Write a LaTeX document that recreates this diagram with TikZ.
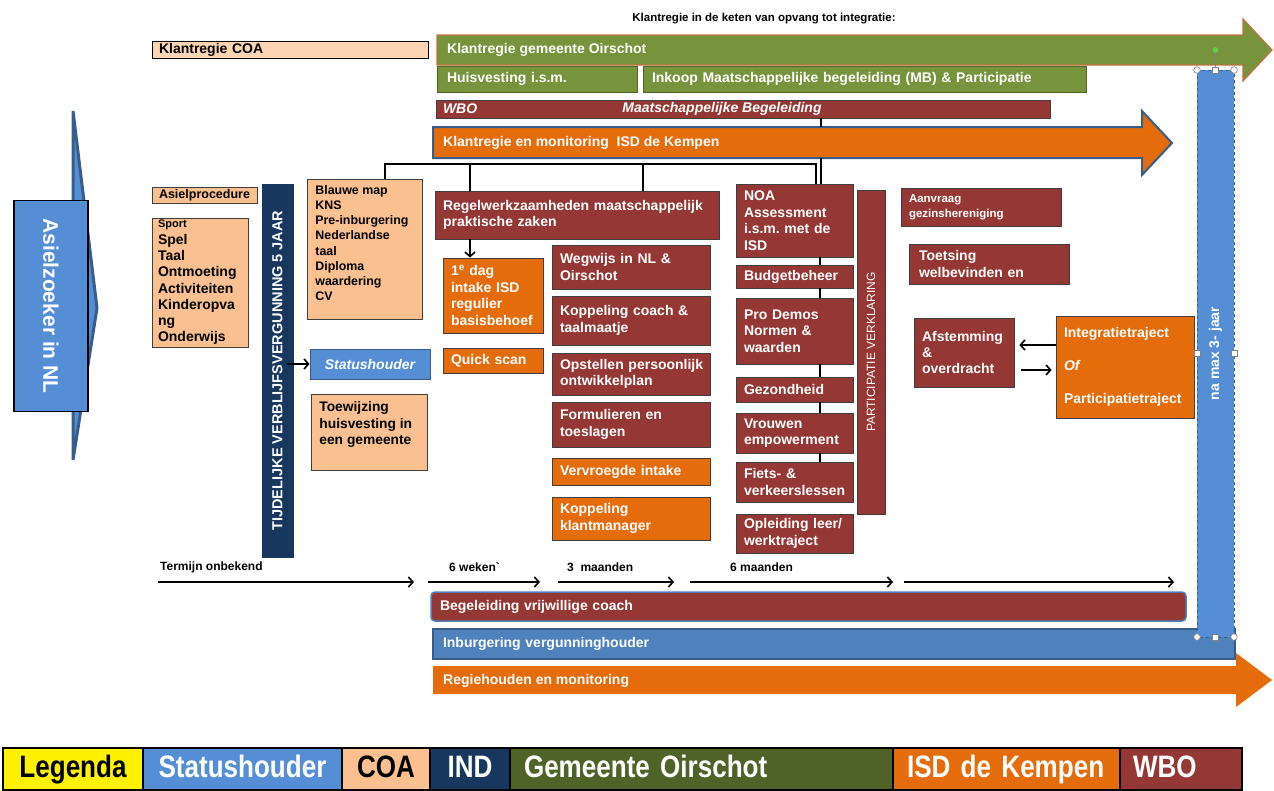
\documentclass[tikz,border=0pt]{standalone}
\usepackage{fontspec}
\setmainfont{Liberation Sans}
\newfontfamily\narrowfont[FakeStretch=0.84]{Liberation Sans}
\usetikzlibrary{arrows.meta}
\frenchspacing
\definecolor{wbo}{HTML}{953735}
\definecolor{isd}{HTML}{E46C0A}
\definecolor{gem}{HTML}{77933C}
\definecolor{gemdark}{HTML}{4F6228}
\definecolor{coa}{HTML}{FAC090}
\definecolor{coalight}{HTML}{FCD5B5}
\definecolor{stat}{HTML}{558ED5}
\definecolor{inb}{HTML}{4F81BD}
\definecolor{ind}{HTML}{17375E}
\definecolor{bord}{HTML}{3F3F3F}
\definecolor{blueline}{HTML}{385D8A}
\definecolor{gemline}{HTML}{C0723C}
\definecolor{rotdot}{HTML}{5FD33A}
\newcommand\myfs[2]{\fontsize{#1}{#2}\selectfont}
\newcommand\mybx[8]{%
  \pgfmathsetmacro\bxw{#4-#2}%
  \pgfmathsetmacro\bxh{#5-#3}%
  \pgfmathsetmacro\bxt{#4-#2-2*#6}%
  \pgfmathsetmacro\bxcx{(#2+#4)/2}%
  \pgfmathsetmacro\bxcy{(#3+#5)/2}%
  \node[bxs,#7,minimum width=\bxw pt,minimum height=\bxh pt,text width=\bxt pt] (#1) at (\bxcx,\bxcy) {#8};%
}
\tikzset{
  bxs/.style={draw=bord, line width=0.8pt, inner sep=0pt, align=left, text=white, font=\bfseries\frenchspacing\myfs{14}{16.5}},
  conn/.style={line width=1.6pt, draw=black},
  arr/.style={line width=1.6pt, draw=black, -{Straight Barb[length=4.5pt,width=10pt,line width=1.6pt]}},
  lbl/.style={inner sep=0pt, anchor=west, text=white, font=\bfseries\myfs{14}{16}},
  tl/.style={inner sep=0pt, anchor=west, text=black, font=\bfseries\myfs{12}{14}},
  leg/.style={draw=black, line width=1.5pt, align=center, text height=22pt, text depth=6pt, font=\narrowfont\bfseries\myfs{31}{33}},
  handle/.style={draw=gray, fill=white, line width=0.6pt},
}
\begin{document}
\begin{tikzpicture}[x=1pt,y=-1pt]
\useasboundingbox[fill=white] (0,0) rectangle (1274,790);

% title
\node[inner sep=0pt, font=\bfseries\myfs{11.5}{13}] (title) at (764,19) {Klantregie in de keten van opvang tot integratie:};

% left chevron and box
\filldraw[fill=stat, draw=blueline, line width=3pt, line join=bevel] (73,111) -- (97,308) -- (73,460) -- cycle;
\node[fill=stat, draw=black, line width=1.8pt, inner sep=0pt, minimum width=211pt, minimum height=74pt, rotate=-90, text=white, font=\bfseries\myfs{21}{24}] (asiel) at (51,306) {Asielzoeker in NL};

% top bars
\mybx{coa}{152}{41}{428}{58}{7}{fill=coalight, draw=black, text=black}{Klantregie COA}
\filldraw[fill=gem, draw=gemline, line width=1.2pt] (437,35) -- (1243,35) -- (1243,19) -- (1272,50) -- (1243,81) -- (1243,65) -- (437,65) -- cycle;
\node[lbl] (gemlbl) at (447,50) {Klantregie gemeente Oirschot};
\mybx{huis}{437}{66}{637}{92}{10}{fill=gem, draw=gemdark}{Huisvesting i.s.m.}
\mybx{inkoop}{643}{66}{1086}{92}{9}{fill=gem, draw=gemdark}{Inkoop Maatschappelijke begeleiding (MB) \& Participatie}
\mybx{wbo}{436}{100}{1050}{118}{7}{fill=wbo, draw=bord, font=\bfseries\itshape\myfs{14}{16}}{WBO}
\node[inner sep=0pt, text=white, font=\bfseries\itshape\myfs{14}{16}] (wbomb) at (722,109) {Maatschappelijke Begeleiding};
\filldraw[fill=isd, draw=blueline, line width=2pt] (433,127) -- (1142,127) -- (1142,111) -- (1172,143) -- (1142,175) -- (1142,158) -- (433,158) -- cycle;
\node[lbl] (isdlbl) at (443,143) {Klantregie en monitoring\ \ ISD de Kempen};

% left column
\mybx{aproc}{152}{187}{257}{203}{7}{fill=coa, text=black, font=\bfseries\myfs{12.5}{14}}{Asielprocedure}
\mybx{sport}{152}{218}{248}{347}{6}{fill=coa, text=black, font=\bfseries\myfs{14}{16.3}}{{\myfs{11}{12}Sport}\\Spel\\Taal\\Ontmoeting\\Activiteiten\\Kinderopva\\ng\\Onderwijs}
\node[fill=ind, draw=ind, inner sep=0pt, minimum width=373pt, minimum height=31pt, rotate=90, text=white, font=\bfseries\myfs{14.5}{16}] (ind) at (277.5,370.5) {TIJDELIJKE VERBLIJFSVERGUNNING 5 JAAR};
\node[draw=bord, line width=0.8pt, fill=coa, anchor=north west, inner xsep=8pt, inner ysep=6pt, font=\bfseries\myfs{12.4}{15.2}] (blauwe) at (307,179) {\parbox[c][128pt][t]{99pt}{\raggedright Blauwe map\\KNS\\Pre-inburgering\\Nederlandse\\taal\\Diploma\\waardering\\CV}};
\mybx{status}{310}{349}{430}{379}{4}{fill=stat, draw=blueline, align=center, font=\bfseries\itshape\myfs{14}{16}}{Statushouder}
\node[draw=bord, line width=0.8pt, fill=coa, anchor=north west, inner xsep=8pt, inner ysep=7pt, font=\bfseries\myfs{13.8}{16.7}] (toew) at (311,394) {\parbox[c][62pt][t]{100pt}{\raggedright Toewijzing\\huisvesting in\\een gemeente}};
\coordinate (ic) at (287,364);
\draw[arr] (ic) -- (ic -| status.west);

% middle
\mybx{regel}{435}{191}{719}{239}{8}{fill=wbo}{Regelwerkzaamheden maatschappelijk\\praktische zaken}
\mybx{dag}{443}{258}{543}{333}{8}{fill=isd}{1\textsuperscript{e} dag\\intake ISD\\regulier\\\mbox{basisbehoef}}
\mybx{quick}{443}{348}{543}{373}{8}{fill=isd}{Quick scan}
\mybx{wegwijs}{552}{245}{710}{289}{8}{fill=wbo}{Wegwijs in NL \&\\Oirschot}
\mybx{koppcoach}{552}{296}{710}{345}{8}{fill=wbo}{Koppeling coach \&\\taalmaatje}
\mybx{opstel}{552}{353}{710}{395}{8}{fill=wbo}{\mbox{Opstellen persoonlijk}\\ontwikkelplan}
\mybx{formul}{552}{402}{710}{447}{8}{fill=wbo}{Formulieren en\\toeslagen}
\mybx{vervr}{552}{458}{710}{485}{8}{fill=isd}{Vervroegde intake}
\mybx{koppklant}{552}{497}{710}{540}{8}{fill=isd}{Koppeling\\klantmanager}

% right column
\mybx{noa}{736}{184}{853}{257}{8}{fill=wbo}{NOA\\Assessment\\\mbox{i.s.m. met de}\\ISD}
\mybx{budget}{736}{265}{853}{288}{8}{fill=wbo}{Budgetbeheer}
\mybx{prodemos}{736}{298}{853}{364}{8}{fill=wbo}{Pro Demos\\Normen \&\\waarden}
\mybx{gezond}{736}{377}{853}{402}{8}{fill=wbo}{Gezondheid}
\mybx{vrouwen}{736}{413}{853}{453}{8}{fill=wbo}{Vrouwen\\\mbox{empowerment}}
\mybx{fiets}{736}{462}{853}{502}{8}{fill=wbo}{Fiets- \&\\\mbox{verkeerslessen}}
\mybx{opleid}{736}{514}{853}{553}{8}{fill=wbo}{\mbox{Opleiding leer/}\\werktraject}
\node[fill=wbo, draw=bord, line width=0.8pt, inner sep=0pt, minimum width=324pt, minimum height=28pt, rotate=90, text=white, font=\myfs{12}{13}] (partic) at (871,352) {PARTICIPATIE VERKLARING};

% connectors
\coordinate (hL) at (385,164);
\coordinate (hR) at (816,164);
\coordinate (d1) at (470,164);
\coordinate (d2) at (643,164);
\draw[conn] (hL |- blauwe.north) -- (hL) -- (hR) -- (hR |- noa.north);
\draw[conn] (d1) -- (d1 |- regel.north);
\draw[conn] (d2) -- (d2 |- regel.north);
\coordinate (w1) at (821,127);
\coordinate (w2) at (821,158);
\draw[conn] (w1 |- wbo.south) -- (w1);
\draw[conn] (w2) -- (w2 |- noa.north);
\draw[arr] (d1 |- regel.south) -- (d1 |- dag.north);
\coordinate (cc) at (820,0);
\foreach \a/\b in {noa/budget, budget/prodemos, prodemos/gezond, gezond/vrouwen, vrouwen/fiets}
  \draw[conn] (cc |- \a.south) -- (cc |- \b.north);

% far right
\mybx{aanv}{901}{188}{1061}{226}{8}{fill=wbo, font=\bfseries\myfs{11.5}{14.7}}{Aanvraag\\gezinshereniging}
\mybx{toets}{909}{244}{1069}{284}{10}{fill=wbo}{Toetsing\\welbevinden en}
\mybx{afst}{914}{318}{1014}{387}{8}{fill=wbo, font=\bfseries\myfs{14}{16}}{\mbox{Afstemming}\\\&\\overdracht}
\mybx{integ}{1056}{316}{1194}{418}{8}{fill=isd, font=\bfseries\myfs{14}{33}}{Integratietraject\\\textit{Of}\\Participatietraject}
\coordinate (ia) at (0,345);
\coordinate (ib) at (0,370);
\draw[arr, shorten >=5pt] (ia -| integ.west) -- (ia -| afst.east);
\draw[arr, shorten <=7pt, shorten >=4pt] (ib -| afst.east) -- (ib -| integ.west);

% timeline
\node[tl] (t1) at (160,567) {Termijn onbekend};
\node[tl] (t2) at (449,567) {6 weken\textasciigrave};
\node[tl] (t3) at (567,567) {3\ \ maanden};
\node[tl] (t4) at (730,567) {6 maanden};
\coordinate (a1) at (158,582); \coordinate (b1) at (414,582);
\coordinate (a2) at (428,582); \coordinate (b2) at (540,582);
\coordinate (a3) at (558,582); \coordinate (b3) at (674,582);
\coordinate (a4) at (690,582); \coordinate (b4) at (893,582);
\coordinate (a5) at (904,582); \coordinate (b5) at (1174,582);
\foreach \i in {1,...,5} \draw[arr] (a\i) -- (b\i);

% bottom bars
\mybx{begel}{431}{592}{1186}{621}{9}{fill=wbo, draw=inb, line width=1.5pt, rounded corners=4pt}{Begeleiding vrijwillige coach}
\mybx{inburg}{433}{629}{1235}{659}{10}{fill=inb, draw=blueline, line width=1.5pt}{Inburgering vergunninghouder}
\fill[isd] (433,666) -- (1236,666) -- (1236,653) -- (1272,680) -- (1236,707) -- (1236,694) -- (433,694) -- cycle;
\node[lbl] (regielbl) at (443,681) {Regiehouden en monitoring};

% right vertical bar
\node[fill=stat, draw=blueline, dashed, line width=0.8pt, inner sep=0pt, minimum width=567pt, minimum height=37pt, rotate=90, text=white, font=\bfseries\myfs{14}{16}] (nabar) at (1215.5,353.5) {na max 3- jaar};
\draw[gray, line width=0.6pt] (1215.5,53) -- (1215.5,67);
\filldraw[fill=rotdot, draw=gray, line width=0.4pt] (1215.5,50) circle (3.2pt);
\foreach \x/\y in {1197/70, 1234/70, 1197/637, 1234/637} \draw[handle] (\x,\y) circle (3.3pt);
\foreach \x/\y in {1215.5/70, 1197/353, 1234/353, 1215.5/637} \draw[handle] (\x-3,\y-3) rectangle (\x+3,\y+3);

% legend
\mybx{lg1}{3}{748}{143}{790}{2}{leg, fill=yellow, text=black}{Legenda}
\mybx{lg2}{143}{748}{342}{790}{2}{leg, fill=stat, text=white}{Statushouder}
\mybx{lg3}{342}{748}{430}{790}{2}{leg, fill=coa, text=black}{COA}
\mybx{lg4}{430}{748}{510}{790}{2}{leg, fill=ind, text=white}{IND}
\mybx{lg5}{510}{748}{893}{790}{14}{leg, fill=gemdark, text=white, align=left}{Gemeente Oirschot}
\mybx{lg6}{893}{748}{1120}{790}{14}{leg, fill=isd, text=white, align=left}{ISD de Kempen}
\mybx{lg7}{1120}{748}{1242}{790}{13}{leg, fill=wbo, text=white, align=left}{WBO}
\end{tikzpicture}
\end{document}
